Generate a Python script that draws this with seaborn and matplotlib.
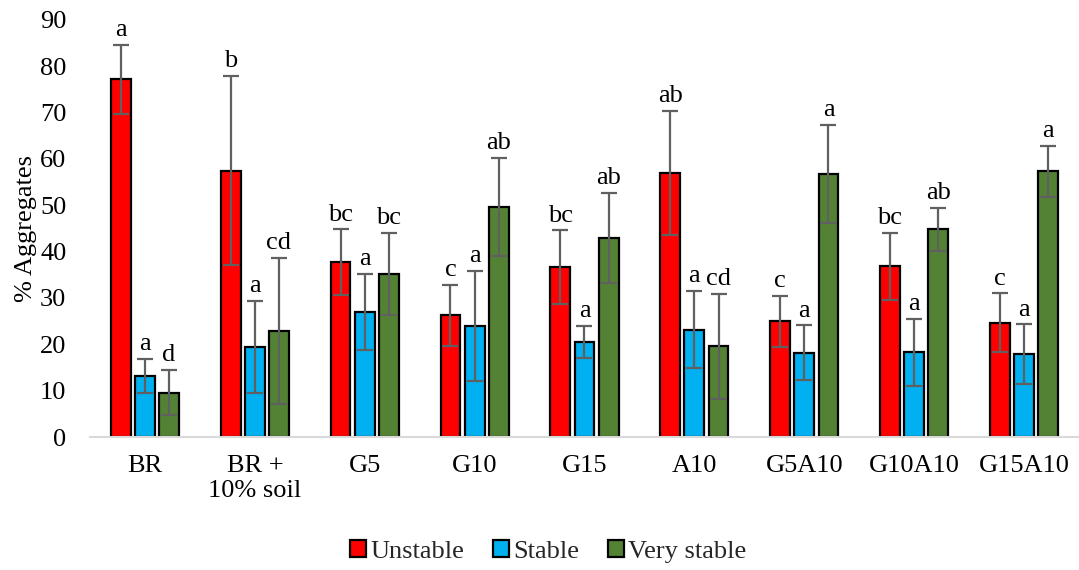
import numpy as np
import pandas as pd
import matplotlib
matplotlib.use("Agg")
import matplotlib.pyplot as plt
import seaborn as sns
from matplotlib.patches import Patch

categories = ["BR", "BR +\n10% soil", "G5", "G10", "G15", "A10", "G5A10", "G10A10", "G15A10"]
series = ["Unstable", "Stable", "Very stable"]

unstable = [77.2, 57.5, 37.7, 26.3, 36.6, 57.0, 25.0, 36.8, 24.7]
stable = [13.2, 19.5, 27.0, 24.0, 20.5, 23.2, 18.2, 18.3, 17.9]
very_stable = [9.6, 22.9, 35.2, 49.6, 43.0, 19.6, 56.7, 44.8, 57.3]

unstable_err = [7.4, 20.4, 7.1, 6.6, 8.0, 13.3, 5.5, 7.2, 6.3]
stable_err = [3.6, 9.9, 8.2, 11.9, 3.4, 8.3, 5.9, 7.2, 6.4]
very_stable_err = [4.8, 15.8, 8.8, 10.6, 9.7, 11.3, 10.6, 4.6, 5.6]

unstable_letters = ["a", "b", "bc", "c", "bc", "ab", "c", "bc", "c"]
stable_letters = ["a", "a", "a", "a", "a", "a", "a", "a", "a"]
very_stable_letters = ["d", "cd", "bc", "ab", "ab", "cd", "a", "ab", "a"]

colors = ["#FF0000", "#00B0F0", "#548235"]

sns.set_theme(style="white")
plt.rcParams["font.family"] = ["Liberation Serif", "DejaVu Serif"]

df = pd.DataFrame({
    "Treatment": categories * 3,
    "Series": sum([[s] * len(categories) for s in series], []),
    "Value": unstable + stable + very_stable,
})

fig = plt.figure(figsize=(10.79, 5.70), dpi=100)
ax = fig.add_axes([0.0834, 0.2333, 0.9166, 0.7317])

sns.barplot(data=df, x="Treatment", y="Value", hue="Series", order=categories,
            hue_order=series, palette=colors, saturation=1, width=0.66, gap=0.18,
            errorbar=None, edgecolor="black", linewidth=1.6, ax=ax, legend=False)

errs = [unstable_err, stable_err, very_stable_err]
vals = [unstable, stable, very_stable]
letters = [unstable_letters, stable_letters, very_stable_letters]
for cont, v, e, lab in zip(ax.containers, vals, errs, letters):
    xs = [b.get_x() + b.get_width() / 2 for b in cont]
    ax.errorbar(xs, v, yerr=e, fmt="none", ecolor="#606060", elinewidth=1.6,
                capsize=5.5, capthick=1.6, zorder=5)
    for x, y, err, t in zip(xs, v, e, lab):
        ax.text(x, y + err + 1.9, t, ha="center", va="baseline", fontsize=19,
                color="black", zorder=6)

ax.set_xlim(-0.5, 8.5)
ax.set_ylim(0, 90)
ax.set_yticks(np.arange(0, 91, 10))
ax.tick_params(axis="both", length=0, labelsize=19, colors="black")
ax.tick_params(axis="x", pad=13)
ax.tick_params(axis="y", pad=17)
ax.set_xlabel("")
ax.set_ylabel("% Aggregates", fontsize=19, labelpad=2, color="black")
for s in ["top", "right", "left"]:
    ax.spines[s].set_visible(False)
ax.spines["bottom"].set_color("#D9D9D9")
ax.spines["bottom"].set_linewidth(1.5)
ax.grid(False)

handles = [Patch(facecolor=c, edgecolor="black", linewidth=1.6) for c in colors]
fig.legend(handles, series, loc="center", bbox_to_anchor=(0.508, 0.032), ncol=3,
           frameon=False, fontsize=19, handlelength=0.6, handleheight=0.6,
           handletextpad=0.15, columnspacing=1.1)

fig.savefig("out.png", dpi=100)
